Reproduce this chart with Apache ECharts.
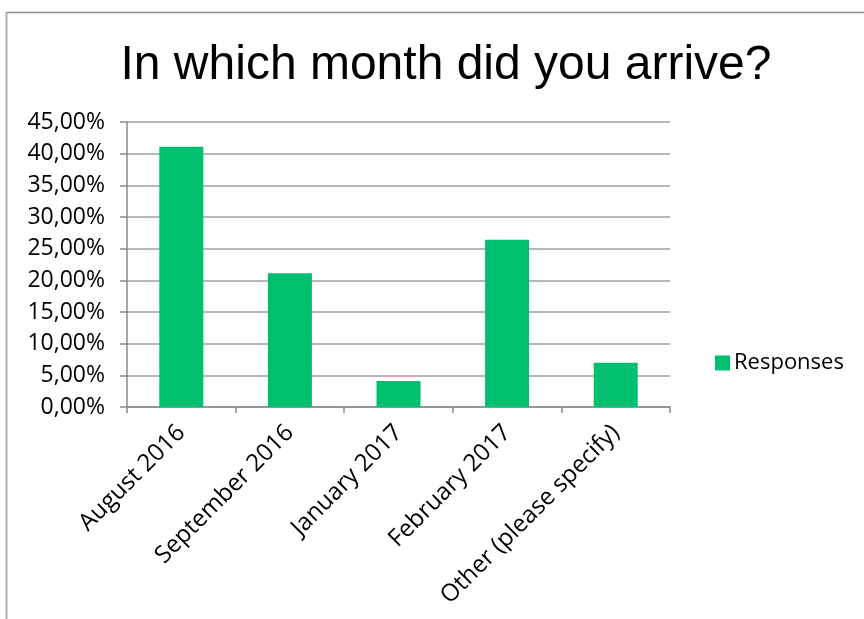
<!DOCTYPE html>
<html>
<head>
<meta charset="utf-8">
<title>In which month did you arrive?</title>
<script src="https://cdn.jsdelivr.net/npm/echarts@6/dist/echarts.min.js"></script>
<style>
  html, body { margin: 0; padding: 0; background: #ffffff; }
  #chart { width: 864px; height: 619px; }
</style>
</head>
<body>
<div id="chart"></div>
<script>
// Survey answers: share of respondents per arrival month (percent)
const categories = ['August 2016', 'September 2016', 'January 2017', 'February 2017', 'Other (please specify)'];
const responses = [41.1, 21.1, 4.1, 26.4, 7.0];
const seriesName = 'Responses';
const chartTitle = 'In which month did you arrive?';

// Value axis range and step (percent)
const yMin = 0;
const yMax = 45;
const yStep = 5;

const labelFont = '"Open Sans", "Noto Sans", sans-serif';
const green = '#00BF6F';

const chart = echarts.init(document.getElementById('chart'), null, { renderer: 'canvas' });

chart.setOption({
  animation: false,
  backgroundColor: '#ffffff',
  title: {
    text: chartTitle,
    left: 441,
    top: 37,
    textAlign: 'center',
    textStyle: {
      fontFamily: '"Liberation Sans", Arial, sans-serif',
      fontSize: 48,
      fontWeight: 'normal',
      color: '#000000'
    }
  },
  legend: {
    data: [seriesName],
    orient: 'vertical',
    left: 710,
    top: 347,
    itemWidth: 15,
    itemHeight: 15,
    itemGap: 0,
    icon: 'rect',
    itemStyle: { borderWidth: 0 },
    textStyle: {
      fontFamily: labelFont,
      fontSize: 22,
      color: '#000000',
      padding: [0, 0, 0, -1]
    }
  },
  grid: {
    left: 127,
    right: 194,
    top: 122,
    bottom: 212,
    containLabel: false
  },
  xAxis: {
    type: 'category',
    data: categories,
    boundaryGap: true,
    axisLine: { show: true, lineStyle: { color: '#8a8a8a', width: 1.5 } },
    axisTick: { show: true, length: 6, lineStyle: { color: '#8a8a8a', width: 1.5 } },
    axisLabel: {
      rotate: 45,
      interval: 0,
      margin: 22,
      fontFamily: labelFont,
      fontSize: 24,
      color: '#000000'
    },
    splitLine: { show: false }
  },
  yAxis: {
    type: 'value',
    min: yMin,
    max: yMax,
    interval: yStep,
    axisLine: { show: true, lineStyle: { color: '#8a8a8a', width: 1.5 } },
    axisTick: { show: true, inside: false, length: 7, lineStyle: { color: '#8a8a8a', width: 1.5 } },
    axisLabel: {
      margin: 22,
      fontFamily: labelFont,
      fontSize: 23,
      color: '#000000',
      formatter: function (v) {
        return v.toFixed(2).replace('.', ',') + '%';
      }
    },
    splitLine: { show: true, lineStyle: { color: '#a0a0a0', width: 1.5 } }
  },
  series: [{
    name: seriesName,
    type: 'bar',
    data: responses,
    barWidth: 44,
    itemStyle: { color: green }
  }],
  graphic: [
    // chart frame: top and left edges
    { type: 'line', shape: { x1: 6, y1: 12.5, x2: 864, y2: 12.5 }, style: { stroke: '#8c8c8c', lineWidth: 1.5 } },
    { type: 'line', shape: { x1: 6.5, y1: 12, x2: 6.5, y2: 619 }, style: { stroke: '#adadad', lineWidth: 2 } }
  ]
});
</script>
</body>
</html>
